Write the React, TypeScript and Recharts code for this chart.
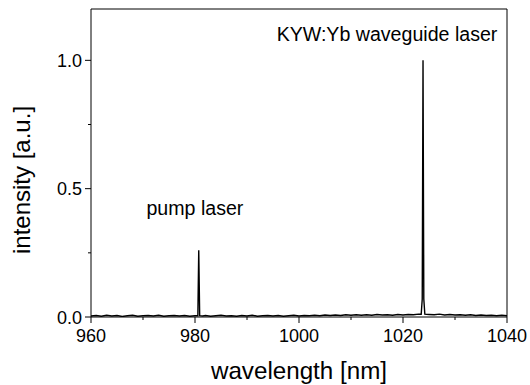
import { LineChart, Line, XAxis, YAxis, ReferenceLine, ReferenceDot } from "recharts";

const FONT = '"Liberation Sans", Arial, sans-serif';

// background noise of the spectrometer, [nm, intensity]
const BASELINE: [number, number][] = [
  [960, 0.004], [961, 0.006], [962, 0.003], [963, 0.007], [964, 0.004], [965, 0.006],
  [966, 0.002], [967, 0.005], [968, 0.007], [969, 0.003], [970, 0.005], [971, 0.006],
  [972, 0.004], [973, 0.007], [974, 0.003], [975, 0.005], [976, 0.006], [977, 0.004],
  [978, 0.006], [979, 0.003], [980, 0.005], [981.5, 0.004], [982, 0.006], [983, 0.003],
  [984, 0.005], [985, 0.007], [986, 0.004], [987, 0.005], [988, 0.003], [989, 0.006],
  [990, 0.004], [991, 0.007], [992, 0.003], [993, 0.005], [994, 0.006], [995, 0.004],
  [996, 0.006], [997, 0.003], [998, 0.005], [999, 0.007], [1000, 0.004], [1001, 0.006],
  [1002, 0.005], [1003, 0.007], [1004, 0.005], [1005, 0.008], [1006, 0.006], [1007, 0.008],
  [1008, 0.006], [1009, 0.009], [1010, 0.007], [1011, 0.009], [1012, 0.007], [1013, 0.009],
  [1014, 0.007], [1015, 0.01], [1016, 0.008], [1017, 0.009], [1018, 0.007], [1019, 0.01],
  [1020, 0.008], [1021, 0.01], [1022, 0.009], [1023, 0.011], [1025, 0.01], [1026, 0.009],
  [1027, 0.011], [1028, 0.008], [1029, 0.01], [1030, 0.008], [1031, 0.009], [1032, 0.007],
  [1033, 0.009], [1034, 0.006], [1035, 0.008], [1036, 0.006], [1037, 0.007], [1038, 0.005],
  [1039, 0.007], [1040, 0.005],
];

const PUMP_PEAK: [number, number][] = [
  [980.55, 0.005], [980.72, 0.26], [980.9, 0.005],
];

const LASER_PEAK: [number, number][] = [
  [1023.5, 0.011], [1023.7, 0.07], [1023.85, 1.0], [1024.0, 0.07], [1024.2, 0.011],
];

const X_TICKS = [960, 970, 980, 990, 1000, 1010, 1020, 1030, 1040];
const Y_TICKS = [0, 0.25, 0.5, 0.75, 1.0];

const data = [...BASELINE, ...PUMP_PEAK, ...LASER_PEAK]
  .sort((a, b) => a[0] - b[0])
  .map(([nm, v]) => ({ nm, v }));

const XTick = ({ x, y, payload }: any) => {
  const major = payload.value % 20 === 0;
  return (
    <g>
      <line x1={x} x2={x} y1={y} y2={y + (major ? 6 : 3)} stroke="#000" strokeWidth={1} />
      {major && (
        <text x={x} y={y + 25} textAnchor="middle" fontSize={18} fontFamily={FONT} fill="#000">
          {payload.value}
        </text>
      )}
    </g>
  );
};

const YTick = ({ x, y, payload }: any) => {
  const major = Math.abs((payload.value * 2) % 1) < 1e-6;
  return (
    <g>
      <line x1={x} x2={x - (major ? 6 : 3)} y1={y} y2={y} stroke="#000" strokeWidth={1} />
      {major && (
        <text x={x - 9} y={y + 6.5} textAnchor="end" fontSize={18} fontFamily={FONT} fill="#000">
          {payload.value.toFixed(1)}
        </text>
      )}
    </g>
  );
};

const note = (text: string) => (props: any) => {
  const { x, y } = props.viewBox;
  return (
    <text x={x + 1} y={y + 1} fontSize={19.6} fontFamily={FONT} fill="#000">
      {text}
    </text>
  );
};

export default function App() {
  return (
    <div style={{ width: 530, height: 385 }}>
      <style>{`body{margin:0}`}</style>
      <LineChart
        width={530}
        height={385}
        data={data}
        margin={{ top: 9, right: 23, bottom: 0, left: 0 }}
        style={{ fontFamily: FONT }}
      >
        <XAxis
          dataKey="nm"
          type="number"
          domain={[960, 1040]}
          ticks={X_TICKS}
          interval={0}
          height={68}
          tickLine={false}
          tickSize={0}
          tickMargin={0}
          tick={<XTick />}
          axisLine={{ stroke: "#000" }}
          label={(p: any) => {
            const { x, width } = p.viewBox;
            return (
              <text x={x + width / 2} y={379} textAnchor="middle" fontSize={24.2} fontFamily={FONT} fill="#000">
                wavelength [nm]
              </text>
            );
          }}
        />
        <YAxis
          type="number"
          domain={[0, 1.2]}
          ticks={Y_TICKS}
          interval={0}
          width={91}
          allowDataOverflow
          tickLine={false}
          tickSize={0}
          tickMargin={0}
          tick={<YTick />}
          axisLine={{ stroke: "#000" }}
          label={() => (
            <text
              x={30}
              y={180}
              transform="rotate(-90, 30, 180)"
              textAnchor="middle"
              fontSize={24}
              fontFamily={FONT}
              fill="#000"
            >
              intensity [a.u.]
            </text>
          )}
        />
        <ReferenceLine y={1.2} stroke="#000" strokeWidth={1} />
        <ReferenceLine x={1040} stroke="#000" strokeWidth={1} />
        <ReferenceDot x={970.67} y={0.397} r={1} fill="none" stroke="none" label={note("pump laser")} />
        <ReferenceDot x={995.7} y={1.075} r={1} fill="none" stroke="none" label={note("KYW:Yb waveguide laser")} />
        <Line
          type="linear"
          dataKey="v"
          stroke="#000"
          strokeWidth={1.4}
          dot={false}
          isAnimationActive={false}
        />
      </LineChart>
    </div>
  );
}
